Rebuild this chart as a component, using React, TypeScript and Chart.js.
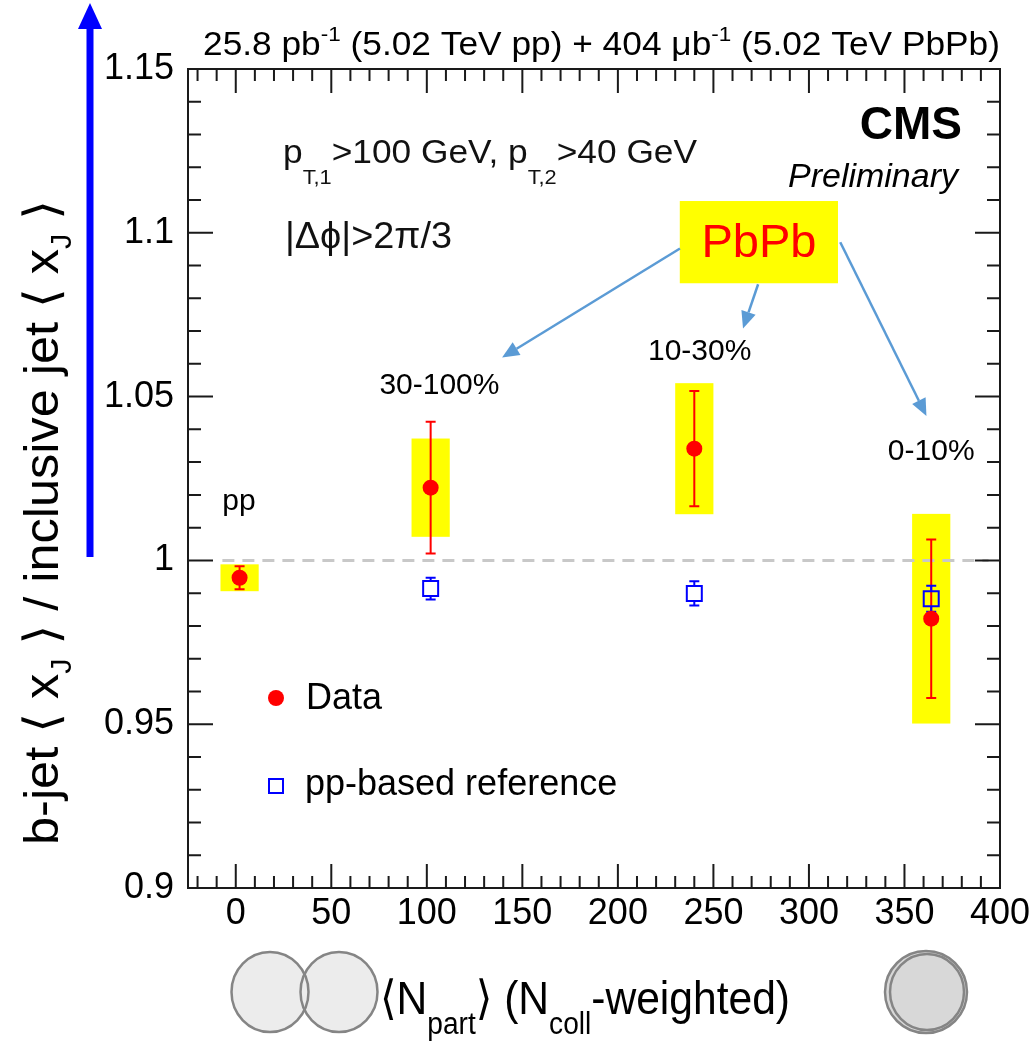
import React, { useEffect, useRef } from 'react';
import { Chart, registerables } from 'chart.js';

Chart.register(...registerables);

// Centrality classes and <N_part> (N_coll-weighted) positions
const centralityLabels = ['pp', '30-100%', '10-30%', '0-10%'];
const nPart = [2, 102, 240, 364];

// b-jet <x_J> / inclusive jet <x_J> measured ratios
const dataRatio = [0.9947, 1.0222, 1.0341, 0.9822];
const dataStat = [0.0035, 0.0201, 0.0176, 0.0242];
const dataSyst = [0.0041, 0.015, 0.02, 0.032];

// pp-based reference
const refNPart = [102, 240, 364];
const refRatio = [0.9914, 0.9899, 0.9883];
const refStat = [0.0033, 0.0037, 0.004];

// axes
const xTicks = [0, 50, 100, 150, 200, 250, 300, 350, 400];
const yTicks = [0.9, 0.95, 1.0, 1.05, 1.1, 1.15];
const yTickLabels = ['0.9', '0.95', '1', '1.05', '1.1', '1.15'];

const SANS = '"Liberation Sans", Arial, Helvetica, "DejaVu Sans", sans-serif';
const BOX_HALF = 10; // half-width of systematic boxes in N_part units

type Seg = { t: string; size: number; dy?: number; style?: string; family?: string; color?: string };

function segFont(s: Seg) {
  return `${s.style ?? ''} ${s.size}px ${s.family ?? SANS}`.trim();
}
function richWidth(ctx: CanvasRenderingContext2D, segs: Seg[]) {
  let w = 0;
  for (const s of segs) {
    ctx.font = segFont(s);
    w += ctx.measureText(s.t).width;
  }
  return w;
}
function drawRich(ctx: CanvasRenderingContext2D, segs: Seg[], x: number, y: number) {
  let cx = x;
  ctx.textAlign = 'left';
  ctx.textBaseline = 'alphabetic';
  for (const s of segs) {
    ctx.font = segFont(s);
    if (s.color) ctx.fillStyle = s.color;
    ctx.fillText(s.t, cx, y + (s.dy ?? 0));
    cx += ctx.measureText(s.t).width;
  }
  return cx - x;
}
// rich text squeezed or stretched horizontally to span a given width
function drawRichFit(ctx: CanvasRenderingContext2D, segs: Seg[], x: number, y: number, width: number) {
  const w = richWidth(ctx, segs);
  ctx.save();
  ctx.translate(x, y);
  ctx.scale(width / w, 1);
  drawRich(ctx, segs, 0, 0);
  ctx.restore();
}

function arrow(ctx: CanvasRenderingContext2D, x0: number, y0: number, x1: number, y1: number, color: string, lw: number, headLen: number, headW: number) {
  const ang = Math.atan2(y1 - y0, x1 - x0);
  const bx = x1 - headLen * Math.cos(ang);
  const by = y1 - headLen * Math.sin(ang);
  ctx.strokeStyle = color;
  ctx.fillStyle = color;
  ctx.lineWidth = lw;
  ctx.beginPath();
  ctx.moveTo(x0, y0);
  ctx.lineTo(bx, by);
  ctx.stroke();
  ctx.beginPath();
  ctx.moveTo(x1, y1);
  ctx.lineTo(bx + (headW / 2) * Math.sin(ang), by - (headW / 2) * Math.cos(ang));
  ctx.lineTo(bx - (headW / 2) * Math.sin(ang), by + (headW / 2) * Math.cos(ang));
  ctx.closePath();
  ctx.fill();
}

const rootStyle = {
  id: 'rootStyle',
  beforeDatasetsDraw(chart: any) {
    const { ctx, scales } = chart;
    const x = scales.x, y = scales.y;
    ctx.save();
    // systematic uncertainty boxes
    ctx.fillStyle = '#ffff00';
    nPart.forEach((n: number, i: number) => {
      const x0 = x.getPixelForValue(n - BOX_HALF);
      const x1 = x.getPixelForValue(n + BOX_HALF);
      const y0 = y.getPixelForValue(dataRatio[i] + dataSyst[i]);
      const y1 = y.getPixelForValue(dataRatio[i] - dataSyst[i]);
      ctx.fillRect(x0, y0, x1 - x0, y1 - y0);
    });
    // unity line
    ctx.strokeStyle = '#c8c8c8';
    ctx.lineWidth = 3;
    ctx.setLineDash([12, 8]);
    ctx.beginPath();
    ctx.moveTo(x.getPixelForValue(-7), y.getPixelForValue(1));
    ctx.lineTo(x.getPixelForValue(394), y.getPixelForValue(1));
    ctx.stroke();
    ctx.setLineDash([]);
    // statistical error bars of data
    ctx.strokeStyle = '#ff0000';
    ctx.lineWidth = 2;
    ctx.beginPath();
    nPart.forEach((n: number, i: number) => {
      const px = x.getPixelForValue(n);
      const yt = y.getPixelForValue(dataRatio[i] + dataStat[i]);
      const yb = y.getPixelForValue(dataRatio[i] - dataStat[i]);
      ctx.moveTo(px, yt); ctx.lineTo(px, yb);
      ctx.moveTo(px - 5, yt); ctx.lineTo(px + 5, yt);
      ctx.moveTo(px - 5, yb); ctx.lineTo(px + 5, yb);
    });
    ctx.stroke();
    // error bars of the reference, stopping at the open marker
    ctx.strokeStyle = '#0000ff';
    ctx.beginPath();
    refNPart.forEach((n: number, i: number) => {
      const px = x.getPixelForValue(n);
      const pc = y.getPixelForValue(refRatio[i]);
      const yt = y.getPixelForValue(refRatio[i] + refStat[i]);
      const yb = y.getPixelForValue(refRatio[i] - refStat[i]);
      ctx.moveTo(px, yt); ctx.lineTo(px, pc - 8);
      ctx.moveTo(px, pc + 8); ctx.lineTo(px, yb);
      ctx.moveTo(px - 5, yt); ctx.lineTo(px + 5, yt);
      ctx.moveTo(px - 5, yb); ctx.lineTo(px + 5, yb);
    });
    ctx.stroke();
    ctx.restore();
  },
  afterDraw(chart: any) {
    const { ctx, chartArea: a, scales } = chart;
    const x = scales.x, y = scales.y;
    const X = (v: number) => x.getPixelForValue(v);
    const Y = (v: number) => y.getPixelForValue(v);
    ctx.save();

    // frame with ticks on all four sides
    ctx.strokeStyle = '#1a1a1a';
    ctx.lineWidth = 2;
    ctx.strokeRect(a.left, a.top, a.right - a.left, a.bottom - a.top);
    ctx.beginPath();
    for (let v = -20; v <= 400; v += 10) {
      const px = X(v);
      const len = v % 50 === 0 ? 24 : 12;
      ctx.moveTo(px, a.bottom); ctx.lineTo(px, a.bottom - len);
      ctx.moveTo(px, a.top); ctx.lineTo(px, a.top + len);
    }
    for (let k = 0; k <= 25; k++) {
      const py = Y(0.9 + k * 0.01);
      const len = k % 5 === 0 ? 25 : 13;
      ctx.moveTo(a.left, py); ctx.lineTo(a.left + len, py);
      ctx.moveTo(a.right, py); ctx.lineTo(a.right - len, py);
    }
    ctx.stroke();

    ctx.fillStyle = '#000';

    // luminosity title
    drawRichFit(ctx, [
      { t: '25.8 pb', size: 33 },
      { t: '-1', size: 21, dy: -14 },
      { t: ' (5.02 TeV pp) + 404 \u03bcb', size: 33 },
      { t: '-1', size: 21, dy: -14 },
      { t: ' (5.02 TeV PbPb)', size: 33 },
    ], 203, 55, 797);

    // CMS label
    ctx.textAlign = 'right';
    ctx.textBaseline = 'middle';
    ctx.font = `bold 46px ${SANS}`;
    ctx.fillText('CMS', 962, 126);
    ctx.font = `italic 34px ${SANS}`;
    ctx.fillText('Preliminary', 958, 178);

    // selection text
    ctx.fillStyle = '#111';
    drawRichFit(ctx, [
      { t: 'p', size: 34 },
      { t: 'T,1', size: 21, dy: 21 },
      { t: '>100 GeV, p', size: 34 },
      { t: 'T,2', size: 21, dy: 21 },
      { t: '>40 GeV', size: 34 },
    ], 283, 163, 414);
    drawRichFit(ctx, [{ t: '|\u0394\u03d5|>2\u03c0/3', size: 37 }], 285, 248, 167);

    // centrality labels
    ctx.fillStyle = '#000';
    ctx.textAlign = 'center';
    ctx.textBaseline = 'middle';
    ctx.font = `30px ${SANS}`;
    const labelPos = [[1.7, 1.018], [106.6, 1.0532], [242.8, 1.0636], [364, 1.0333]];
    centralityLabels.forEach((l, i) => ctx.fillText(l, X(labelPos[i][0]), Y(labelPos[i][1])));

    // PbPb callout
    const bx0 = X(232.4), bx1 = X(315.2), by0 = Y(1.1097), by1 = Y(1.0846);
    ctx.fillStyle = '#ffff00';
    ctx.fillRect(bx0, by0, bx1 - bx0, by1 - by0);
    ctx.fillStyle = '#ff0000';
    ctx.font = `47px ${SANS}`;
    ctx.fillText('PbPb', (bx0 + bx1) / 2, (by0 + by1) / 2 + 2);
    const arrowColor = '#5b9bd5';
    arrow(ctx, X(232.5), Y(1.0952), X(139.4), Y(1.0619), arrowColor, 2.5, 17, 15);
    arrow(ctx, X(273.4), Y(1.0843), X(265.5), Y(1.0708), arrowColor, 2.5, 17, 15);
    arrow(ctx, X(316.4), Y(1.0971), X(361.5), Y(1.0441), arrowColor, 2.5, 17, 15);

    // legend
    const lx = a.left + 88;
    ctx.fillStyle = '#ff0000';
    ctx.beginPath();
    ctx.arc(lx, 698, 8, 0, Math.PI * 2);
    ctx.fill();
    ctx.strokeStyle = '#0000ff';
    ctx.lineWidth = 2;
    ctx.strokeRect(lx - 7, 779, 14, 14);
    ctx.fillStyle = '#000';
    ctx.textAlign = 'left';
    ctx.font = `36px ${SANS}`;
    ctx.fillText('Data', lx + 30, 699);
    ctx.fillText('pp-based reference', lx + 29, 785);

    // y-axis title
    ctx.save();
    ctx.translate(58, 0);
    ctx.rotate(-Math.PI / 2);
    const ySegs: Seg[] = [
      { t: 'b-jet \u27e8 ', size: 48 },
      { t: 'x', size: 48 },
      { t: 'J', size: 29, dy: 13 },
      { t: ' \u27e9 / inclusive jet \u27e8 ', size: 48 },
      { t: 'x', size: 48 },
      { t: 'J', size: 29, dy: 13 },
      { t: ' \u27e9', size: 48 },
    ];
    ctx.fillStyle = '#000';
    drawRichFit(ctx, ySegs, -845, 0, 645);
    ctx.restore();

    // blue arrow along the y axis
    arrow(ctx, 90, 557, 90, 3, '#0000ff', 7, 26, 24);

    // x-axis title with collision sketches
    const ellipses = [
      [270, 992, 38.5, 40, '#ececec'],
      [339, 992, 38.5, 40, '#ececec'],
      [926, 992, 41, 41, '#d8d8d8'],
    ] as const;
    ellipses.forEach(([cx, cy, rx, ry, fill]) => {
      ctx.beginPath();
      ctx.ellipse(cx, cy, rx, ry, 0, 0, Math.PI * 2);
      ctx.fillStyle = fill;
      ctx.fill();
    });
    ctx.strokeStyle = '#858585';
    ctx.lineWidth = 2.5;
    ellipses.forEach(([cx, cy, rx, ry]) => {
      ctx.beginPath();
      ctx.ellipse(cx, cy, rx, ry, 0, 0, Math.PI * 2);
      ctx.stroke();
    });
    ctx.beginPath();
    ctx.ellipse(927, 992, 37, 38, 0, 0, Math.PI * 2);
    ctx.stroke();

    ctx.fillStyle = '#000';
    drawRichFit(ctx, [
      { t: '\u27e8N', size: 47 },
      { t: 'part', size: 31, dy: 20 },
      { t: '\u27e9 (N', size: 47 },
      { t: 'coll', size: 31, dy: 20 },
      { t: '-weighted)', size: 47 },
    ], 380, 1014, 410);

    ctx.restore();
  },
};

export default function App() {
  const ref = useRef<HTMLCanvasElement | null>(null);
  useEffect(() => {
    const canvas = ref.current;
    if (!canvas) return;
    const chart = new Chart(canvas, {
      type: 'scatter',
      data: {
        datasets: [
          {
            label: 'pp-based reference',
            data: refNPart.map((n, i) => ({ x: n, y: refRatio[i] })),
            pointStyle: 'rect',
            pointRadius: 10.6,
            pointBackgroundColor: 'rgba(0,0,0,0)',
            pointBorderColor: '#0000ff',
            pointBorderWidth: 2,
            order: 1,
          },
          {
            label: 'Data',
            data: nPart.map((n, i) => ({ x: n, y: dataRatio[i] })),
            pointStyle: 'circle',
            pointRadius: 8,
            pointBackgroundColor: '#ff0000',
            pointBorderWidth: 0,
            order: 2,
          },
        ],
      },
      options: {
        responsive: false,
        animation: false,
        events: [],
        layout: { padding: { left: 0, top: 69, right: 35, bottom: 0 } },
        plugins: { legend: { display: false }, tooltip: { enabled: false } },
        scales: {
          x: {
            type: 'linear',
            min: -25,
            max: 400,
            grid: { display: false, drawTicks: false },
            border: { display: false },
            afterBuildTicks: (s: any) => { s.ticks = xTicks.map((v) => ({ value: v })); },
            afterFit: (s: any) => { s.height = 156; },
            ticks: {
              color: '#000',
              font: { family: SANS, size: 36 },
              padding: 4,
              maxRotation: 0,
              autoSkip: false,
              callback: (v: any) => String(v),
            },
          },
          y: {
            type: 'linear',
            min: 0.9,
            max: 1.15,
            grid: { display: false, drawTicks: false },
            border: { display: false },
            afterBuildTicks: (s: any) => { s.ticks = yTicks.map((v) => ({ value: v })); },
            afterFit: (s: any) => { s.width = 188; },
            ticks: {
              color: '#000',
              font: { family: SANS, size: 36 },
              padding: 14,
              autoSkip: false,
              callback: (_v: any, i: number) => yTickLabels[i],
            },
          },
        },
      },
      plugins: [rootStyle],
    });
    return () => chart.destroy();
  }, []);
  return (
    <div style={{ position: 'absolute', left: 0, top: 0, width: 1035, height: 1044, background: '#fff' }}>
      <canvas ref={ref} width={1035} height={1044} style={{ display: 'block' }} />
    </div>
  );
}
